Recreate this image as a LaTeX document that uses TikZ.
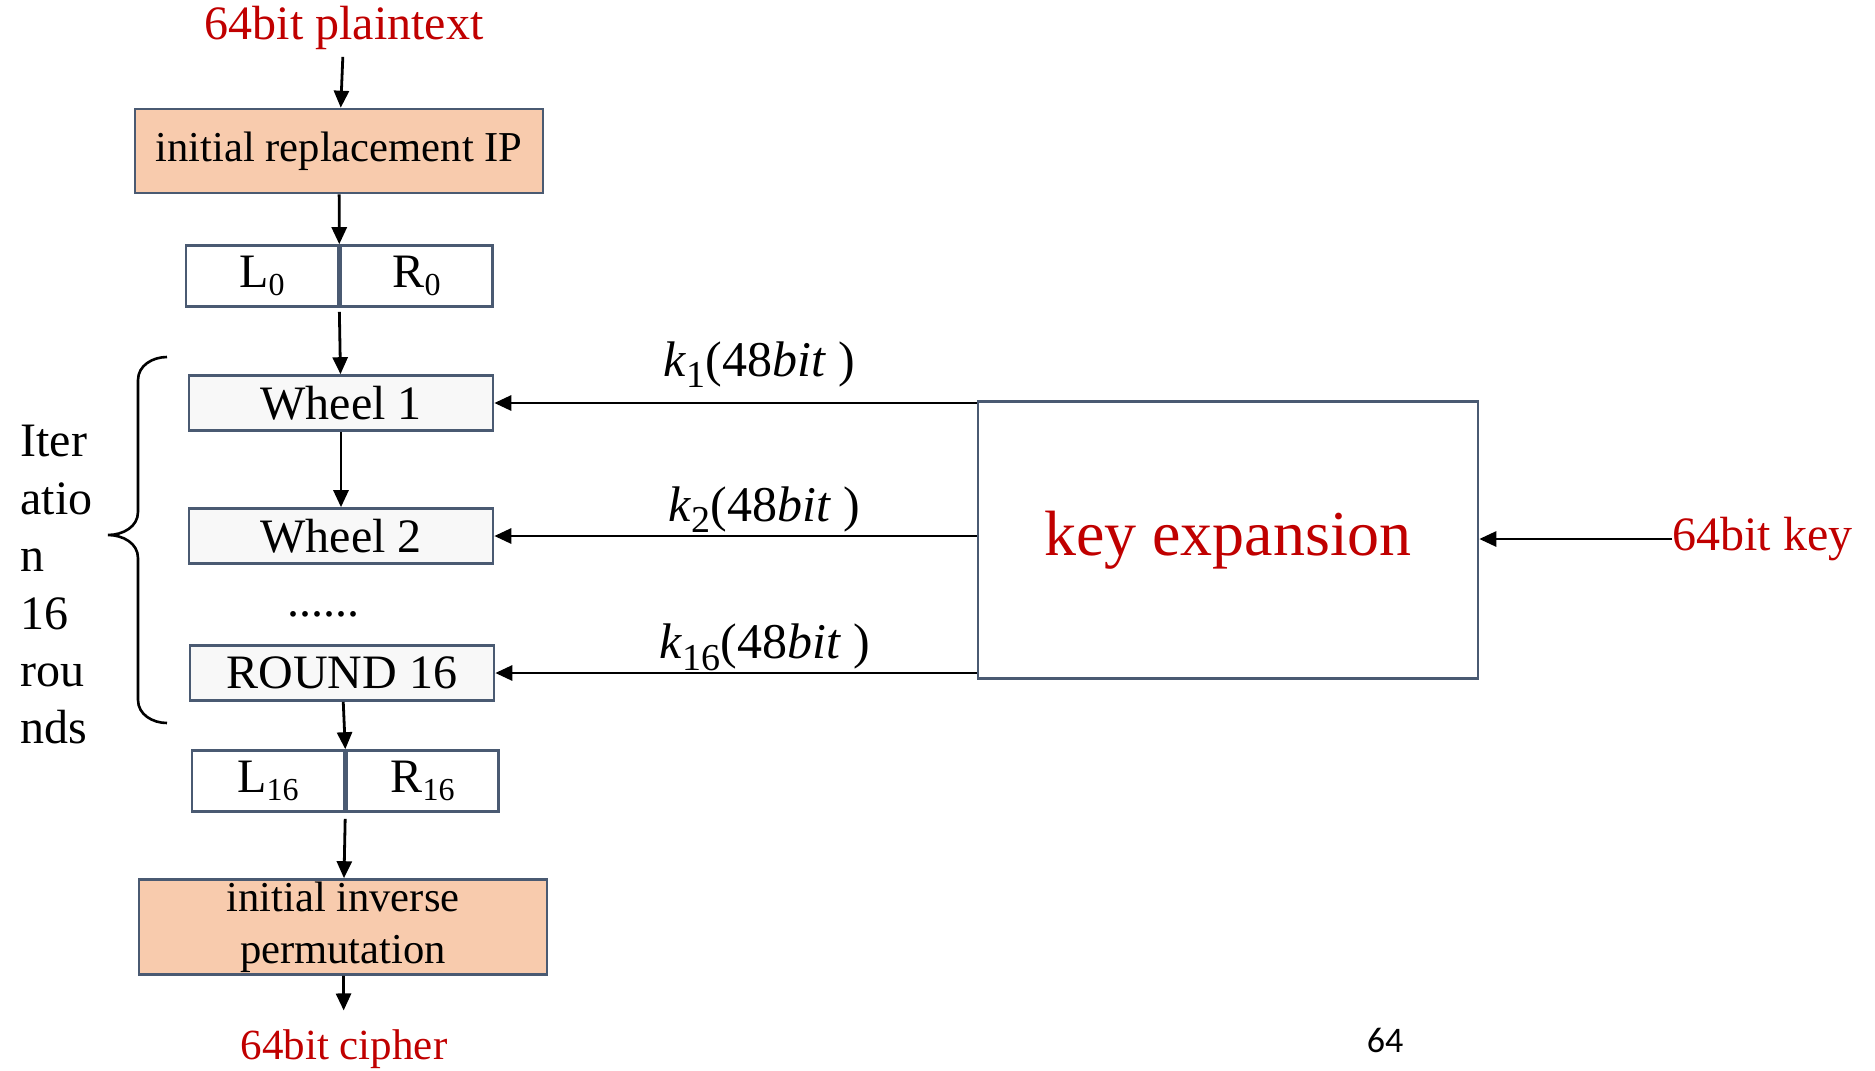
\documentclass[tikz,border=0pt]{standalone}
\usepackage{fontspec}
\setmainfont{Liberation Serif}
\newfontfamily\pagefont{Carlito}
\usetikzlibrary{arrows.meta,positioning,calc}

\definecolor{boxedge}{HTML}{4A5A72}
\definecolor{ipfill}{HTML}{F8CBAD}
\definecolor{roundfill}{HTML}{F8F8F8}
\definecolor{keyred}{HTML}{C00000}

\newcommand{\lowidx}[1]{\raisebox{-0.4ex}{\fontsize{16}{16}\selectfont #1}}
\newcommand{\keylabel}[1]{\textit{k}\raisebox{-0.5ex}{\fontsize{19}{19}\selectfont #1}(48\textit{bit} )}

\begin{document}
\begin{tikzpicture}[x=0.5pt, y=-0.5pt, every node/.style={font=\fontsize{24}{28}\selectfont}]
\tikzstyle{perm} = [rectangle, draw=boxedge, line width=1.3pt, fill=ipfill, minimum width=204pt, inner sep=0pt, font=\fontsize{21.3}{26}\selectfont]
\tikzstyle{half} = [rectangle, draw=boxedge, line width=1.3pt, fill=white, minimum width=76pt, minimum height=30.5pt, inner sep=0pt]
\tikzstyle{roundbox} = [rectangle, draw=boxedge, line width=1.3pt, fill=roundfill, minimum width=152pt, minimum height=27.5pt, inner sep=0pt]
\tikzstyle{redtext} = [text=keyred, font=\fontsize{24}{28}\selectfont]
\tikzstyle{klab} = [font=\fontsize{25}{28}\selectfont, inner sep=0pt]
\tikzstyle{line} = [draw, line width=1.4pt, -{Triangle[length=8.5pt,width=7.5pt]}]

\useasboundingbox (0,0) rectangle (1875,1071);

% main column
\node [redtext] (plain) at (344,28) {64bit plaintext};
\node [perm, minimum height=42pt] (ip) at (339,151) {initial replacement IP};
\node [half] (l0) at (262,276) {L\lowidx{0}};
\node [half, right=0pt of l0] (r0) {R\lowidx{0}};
\node [roundbox] (wheel1) at (341,403) {Wheel 1};
\node [roundbox] (wheel2) at (341,536) {Wheel 2};
\node (dots) at (323,614) {......};
\node [roundbox] (round16) at (342,673) {ROUND 16};
\node [half] (l16) at (268,781) {L\lowidx{16}};
\node [half, right=0pt of l16] (r16) {R\lowidx{16}};
\node [perm, minimum height=47.5pt, align=center] (iip) at (343,927) {initial inverse\\permutation};
\node [redtext, font=\fontsize{21.5}{26}\selectfont] (cipher) at (344,1049) {64bit cipher};

% key schedule
\node [rectangle, draw=boxedge, line width=1.3pt, minimum width=250pt, minimum height=138.5pt, text=keyred, font=\fontsize{32}{38}\selectfont] (keyexp) at (1228,540) {key expansion};
\node [redtext, anchor=west, inner sep=0pt] (key) at (1672,539) {64bit key};

% rounds brace
\draw [line width=1.3pt] (167,357) to[out=180,in=90] (138,380) -- (138,512)
  to[out=-90,in=0] (108,535) to[out=0,in=90] (138,558) -- (138,700) to[out=-90,in=180] (167,723);
\node [align=left, anchor=west, font=\fontsize{24}{28.7}\selectfont, inner sep=0pt] (iter) at (20,585) {Iter\\atio\\n\\16\\rou\\nds};

\node [font=\pagefont\fontsize{18}{20}\selectfont] (pnum) at (1385,1040) {64};

\path [line] (plain) -- (ip);
\path [line] (ip) -- (l0.north east);
\path [line, shorten <=2pt] (l0.south east) -- (wheel1);
\path [line] (wheel1) -- (wheel2);
\path [line] (round16) -- (l16.north east);
\path [line, shorten <=3pt] (l16.south east) -- (iip);
\path [line, shorten >=6pt] (iip) -- (cipher);

\path [line] (keyexp.west |- wheel1) -- node [klab, pos=0.45, above=7pt] {\keylabel{1}} (wheel1.east);
\path [line] (keyexp.west |- wheel2) -- node [klab, pos=0.44, above=1pt] {\keylabel{2}} (wheel2.east);
\path [line] (keyexp.west |- round16) -- node [klab, pos=0.44, above=0.5pt] {\keylabel{16}} (round16.east);
\path [line] (key.west) -- (keyexp.east |- key.west);
\end{tikzpicture}
\end{document}
